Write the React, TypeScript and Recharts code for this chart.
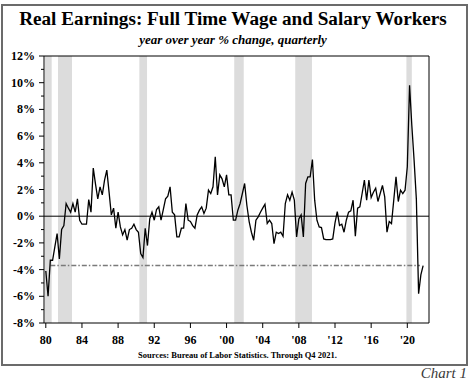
import React from 'react';
import { ComposedChart, Line, XAxis, YAxis, ReferenceLine, ReferenceArea } from 'recharts';

// Quarterly year-over-year % change, 1980 Q1 .. 2021 Q4
const realEarningsYoY: number[] = [
  -4.1, -6.0, -3.3, -3.3, -2.3, -1.3, -3.2, -1.0, -0.7, 0.95, 0.6, 0.3, 0.95, 0.3, 1.3, -0.3, -0.6, -0.6, -0.6, 1.25, 0.3, 3.6, 2.4, 1.3,
  2.2, 1.6, 2.7, 3.45, 1.8, 0.1, 0.6, -0.9, 0.3, -0.8, -1.4, -1.0, -1.8, -1.0, -0.9, -0.6, -1.0, -1.2, -2.8, -3.1, -0.9, -2.2,
  -0.2, 0.3, -0.3, 0.5, 0.7, -0.3, 0.5, 1.3, 1.5, 2.2,
  0.3, 0.1, -1.55, -1.55, -0.9, -0.9, 0.95, -0.3, -0.4, -0.7,
  -0.9, 0.1, 0.45, 0.7, 0.2, 0.6, 1.95, 1.7, 2.2, 4.45,
  1.6, 3.1, 2.8, 2.2, 3.1, 1.6, 1.6, -0.3, -0.3, 0.45,
  0.95, 1.7, 2.45, 0.8, -0.4, -1.2, -1.8, -0.3, -0.05, 0.3,
  0.6, 0.9, -0.55, -0.3, -0.55, -2.05, -1.2, -1.3, -1.2, -1.5,
  0.95, 1.6, 1.2, 1.8, 1.2, -1.55, -0.2, 0.1, -1.55, 2.45,
  2.95, 2.95, 4.25, 1.2, -0.3, -0.8,
  -0.85, -1.7, -1.75, -1.75, -1.75, -1.7, -0.5, 0.35, -0.7, -0.6,
  -1.2, -0.3, 0.3, 0.4, 1.2, -1.5, 0.6, 0.7, 1.7, 2.7,
  1.2, 2.7, 1.4, 1.8, 2.1, 1.1, 1.7, 2.3, 1.45, -1.2,
  -0.4, -0.55, 1.2, 2.95, 1.1, 1.95, 1.7, 1.95, 3.7, 9.8,
  6.8, 4.2, 1.3, -5.8, -4.4, -3.7,
];
const firstYear = 1980;

const xTickYears = [1980, 1984, 1988, 1992, 1996, 2000, 2004, 2008, 2012, 2016, 2020];
const xTickLabels = ['80', '84', '88', '92', '96', "'00", "'04", "'08", "'12", "'16", "'20"];
const yTicks = [-8, -7, -6, -5, -4, -3, -2, -1, 0, 1, 2, 3, 4, 5, 6, 7, 8, 9, 10, 11, 12];

const recessionStarts = [1979.9, 1981.35, 1990.35, 2000.85, 2007.6, 2019.9];
const recessionEnds = [1980.65, 1982.9, 1991.2, 2001.9, 2009.45, 2020.5];

const referenceLevel = -3.7;
const referenceFrom = 1980.5;
const referenceTo = 2021.4;

const data = realEarningsYoY.map((v, i) => ({ x: firstYear + i / 4, v }));

const FONT = "'Liberation Serif', 'Times New Roman', serif";

const LeftTick = (props: any) => {
  const { x, y, payload } = props;
  const v = payload.value as number;
  const major = v % 2 === 0;
  return (
    <g>
      <line x1={x - (major ? 5 : 3)} x2={x} y1={y} y2={y} stroke="#000" strokeWidth={1} />
      {major && (
        <text x={x - 9} y={y} dy={4} textAnchor="end" fontFamily={FONT} fontWeight="bold" fontSize={12} fill="#000">
          {v}%
        </text>
      )}
    </g>
  );
};

const RightTick = (props: any) => {
  const { x, y, payload } = props;
  const v = payload.value as number;
  const major = v % 2 === 0;
  return (
    <g>
      <line x1={x} x2={x + (major ? 5 : 3)} y1={y} y2={y} stroke="#000" strokeWidth={1} />
      {major && (
        <text x={x + 10} y={y} dy={4} textAnchor="start" fontFamily={FONT} fontWeight="bold" fontSize={12} fill="#000">
          {v}%
        </text>
      )}
    </g>
  );
};

export default function App() {
  return (
    <div style={{ position: 'absolute', left: 0, top: 0, width: 476, height: 387, background: '#fff', fontFamily: FONT }}>
      <div
        style={{
          position: 'absolute',
          left: 1,
          top: 4,
          width: 467,
          height: 362,
          boxSizing: 'border-box',
          border: '2px solid #6b6b6b',
        }}
      />
      <div style={{ position: 'absolute', left: 0, top: 8.5, width: 466, textAlign: 'center', fontSize: 19.2, lineHeight: '20px', fontWeight: 'bold', color: '#000', whiteSpace: 'nowrap' }}>
        Real Earnings: Full Time Wage and Salary Workers
      </div>
      <div style={{ position: 'absolute', left: 0, top: 33, width: 466, textAlign: 'center', fontSize: 13, lineHeight: '13px', fontWeight: 'bold', fontStyle: 'italic', color: '#000', whiteSpace: 'nowrap' }}>
        year over year % change, quarterly
      </div>
      <div style={{ position: 'absolute', left: 0, top: 351, width: 475, textAlign: 'center', fontSize: 8.5, lineHeight: '9px', fontWeight: 'bold', color: '#000', whiteSpace: 'nowrap' }}>
        Sources: Bureau of Labor Statistics. Through Q4 2021.
      </div>
      <div style={{ position: 'absolute', right: 9, top: 366, fontSize: 15, lineHeight: '15px', fontStyle: 'italic', color: '#3a3a3a', whiteSpace: 'nowrap' }}>
        Chart 1
      </div>
      <div style={{ position: 'absolute', left: 0, top: 0 }}>
        <ComposedChart width={476} height={387} data={data} margin={{ top: 56, right: 7, bottom: 34, left: 4 }}>
          <XAxis
            dataKey="x"
            type="number"
            domain={[1979.8, 2022.4]}
            allowDataOverflow
            ticks={xTickYears}
            interval={0}
            tickFormatter={(v: number) => xTickLabels[xTickYears.indexOf(v)] ?? ''}
            tickSize={5}
            tickMargin={7}
            height={30}
            axisLine={{ stroke: '#000', strokeWidth: 1 }}
            tickLine={{ stroke: '#000', strokeWidth: 1 }}
            tick={{ fontFamily: FONT, fontWeight: 'bold', fontSize: 12, fill: '#000' }}
          />
          <YAxis
            yAxisId="left"
            orientation="left"
            type="number"
            domain={[-8, 12]}
            ticks={yTicks}
            interval={0}
            width={40}
            tickSize={0}
            tickMargin={0}
            axisLine={{ stroke: '#000', strokeWidth: 1 }}
            tickLine={false}
            tick={<LeftTick />}
          />
          <YAxis
            yAxisId="right"
            orientation="right"
            type="number"
            domain={[-8, 12]}
            ticks={yTicks}
            interval={0}
            width={40}
            tickSize={0}
            tickMargin={0}
            axisLine={{ stroke: '#000', strokeWidth: 1 }}
            tickLine={false}
            tick={<RightTick />}
          />
          {recessionStarts.map((s, i) => (
            <ReferenceArea
              key={i}
              yAxisId="left"
              x1={s}
              x2={recessionEnds[i]}
              y1={-8}
              y2={12}
              fill="#dcdcdc"
              fillOpacity={1}
              stroke="none"
              ifOverflow="hidden"
            />
          ))}
          <ReferenceLine yAxisId="left" y={0} stroke="#000" strokeWidth={1} />
          <ReferenceLine
            yAxisId="left"
            segment={[{ x: referenceFrom, y: referenceLevel }, { x: referenceTo, y: referenceLevel }]}
            stroke="#7a7a7a"
            strokeWidth={1.5}
            strokeDasharray="5 2 1.5 2"
          />
          <ReferenceLine yAxisId="left" y={12} stroke="#000" strokeWidth={1} />
          <Line
            yAxisId="left"
            type="linear"
            dataKey="v"
            stroke="#000"
            strokeWidth={1.3}
            dot={false}
            activeDot={false}
            isAnimationActive={false}
          />
        </ComposedChart>
      </div>
    </div>
  );
}
